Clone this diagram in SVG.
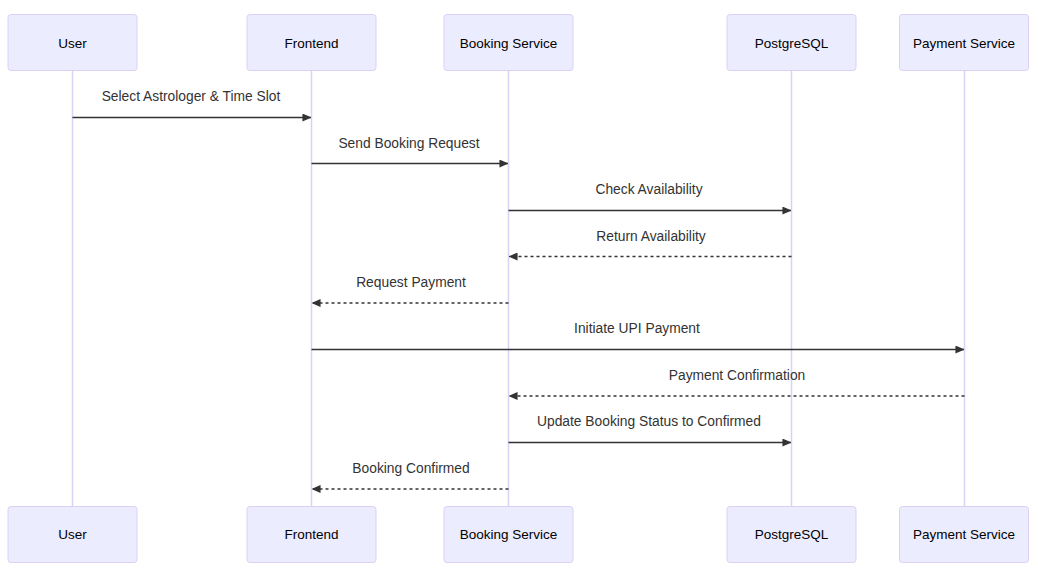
<svg xmlns="http://www.w3.org/2000/svg" width="1038" height="577" viewBox="0 0 1038 577">
<style>
.actor{fill:#ECECFF;stroke:#DCD0F5;stroke-width:1}
.atext{font-family:"Liberation Sans",Arial,sans-serif;font-size:13.5px;fill:#000;text-anchor:middle;dominant-baseline:central}
.life{stroke:#DCD0F5;stroke-width:1.5;fill:none}
.msg{stroke:#333;stroke-width:1.5;fill:none}
.dash{stroke-dasharray:3,3}
.mtext{font-family:"Liberation Sans",Arial,sans-serif;font-size:13.8px;fill:#333;text-anchor:middle;dominant-baseline:central}
</style>
<defs>
<marker id="ah" viewBox="0 0 10 10" refX="9.5" refY="5" markerWidth="9" markerHeight="8" markerUnits="userSpaceOnUse" orient="auto" preserveAspectRatio="none">
<path d="M0,0 L10,5 L0,10 z" fill="#333"/>
</marker>
</defs>
<rect width="1038" height="577" fill="#fff"/>
<g id="lifelines">
<line class="life" x1="72.5" y1="70" x2="72.5" y2="506"/>
<line class="life" x1="311.5" y1="70" x2="311.5" y2="506"/>
<line class="life" x1="508.5" y1="70" x2="508.5" y2="506"/>
<line class="life" x1="791.5" y1="70" x2="791.5" y2="506"/>
<line class="life" x1="964.5" y1="70" x2="964.5" y2="506"/>
</g>
<g id="user-top"><rect class="actor" x="8" y="14.5" width="129" height="56" rx="3"/><text class="atext" x="72.5" y="43">User</text></g>
<g id="frontend-top"><rect class="actor" x="247" y="14.5" width="129" height="56" rx="3"/><text class="atext" x="311.5" y="43">Frontend</text></g>
<g id="booking-top"><rect class="actor" x="444" y="14.5" width="129" height="56" rx="3"/><text class="atext" x="508.5" y="43">Booking Service</text></g>
<g id="postgres-top"><rect class="actor" x="727" y="14.5" width="129" height="56" rx="3"/><text class="atext" x="791.5" y="43">PostgreSQL</text></g>
<g id="payment-top"><rect class="actor" x="899.5" y="14.5" width="129" height="56" rx="3"/><text class="atext" x="964" y="43">Payment Service</text></g>
<g id="user-bottom"><rect class="actor" x="8" y="506.5" width="129" height="56" rx="3"/><text class="atext" x="72.5" y="534.5">User</text></g>
<g id="frontend-bottom"><rect class="actor" x="247" y="506.5" width="129" height="56" rx="3"/><text class="atext" x="311.5" y="534.5">Frontend</text></g>
<g id="booking-bottom"><rect class="actor" x="444" y="506.5" width="129" height="56" rx="3"/><text class="atext" x="508.5" y="534.5">Booking Service</text></g>
<g id="postgres-bottom"><rect class="actor" x="727" y="506.5" width="129" height="56" rx="3"/><text class="atext" x="791.5" y="534.5">PostgreSQL</text></g>
<g id="payment-bottom"><rect class="actor" x="899.5" y="506.5" width="129" height="56" rx="3"/><text class="atext" x="964" y="534.5">Payment Service</text></g>
<g id="connectors">
<line class="msg" x1="72.5" y1="117.5" x2="311" y2="117.5" marker-end="url(#ah)"/>
<text class="mtext" x="191" y="96">Select Astrologer &amp; Time Slot</text>
<line class="msg" x1="311.5" y1="163.5" x2="508" y2="163.5" marker-end="url(#ah)"/>
<text class="mtext" x="409" y="143">Send Booking Request</text>
<line class="msg" x1="508.5" y1="210.5" x2="791" y2="210.5" marker-end="url(#ah)"/>
<text class="mtext" x="649" y="189">Check Availability</text>
<line class="msg dash" x1="791.5" y1="256.5" x2="509" y2="256.5" marker-end="url(#ah)"/>
<text class="mtext" x="651" y="236">Return Availability</text>
<line class="msg dash" x1="508.5" y1="303" x2="312" y2="303" marker-end="url(#ah)"/>
<text class="mtext" x="411" y="282">Request Payment</text>
<line class="msg" x1="311.5" y1="349.5" x2="964" y2="349.5" marker-end="url(#ah)"/>
<text class="mtext" x="637" y="328">Initiate UPI Payment</text>
<line class="msg dash" x1="964.5" y1="396" x2="509" y2="396" marker-end="url(#ah)"/>
<text class="mtext" x="737" y="375">Payment Confirmation</text>
<line class="msg" x1="508.5" y1="442.5" x2="791" y2="442.5" marker-end="url(#ah)"/>
<text class="mtext" x="649" y="421">Update Booking Status to Confirmed</text>
<line class="msg dash" x1="508.5" y1="489" x2="312" y2="489" marker-end="url(#ah)"/>
<text class="mtext" x="411" y="468">Booking Confirmed</text>
</g>
</svg>
